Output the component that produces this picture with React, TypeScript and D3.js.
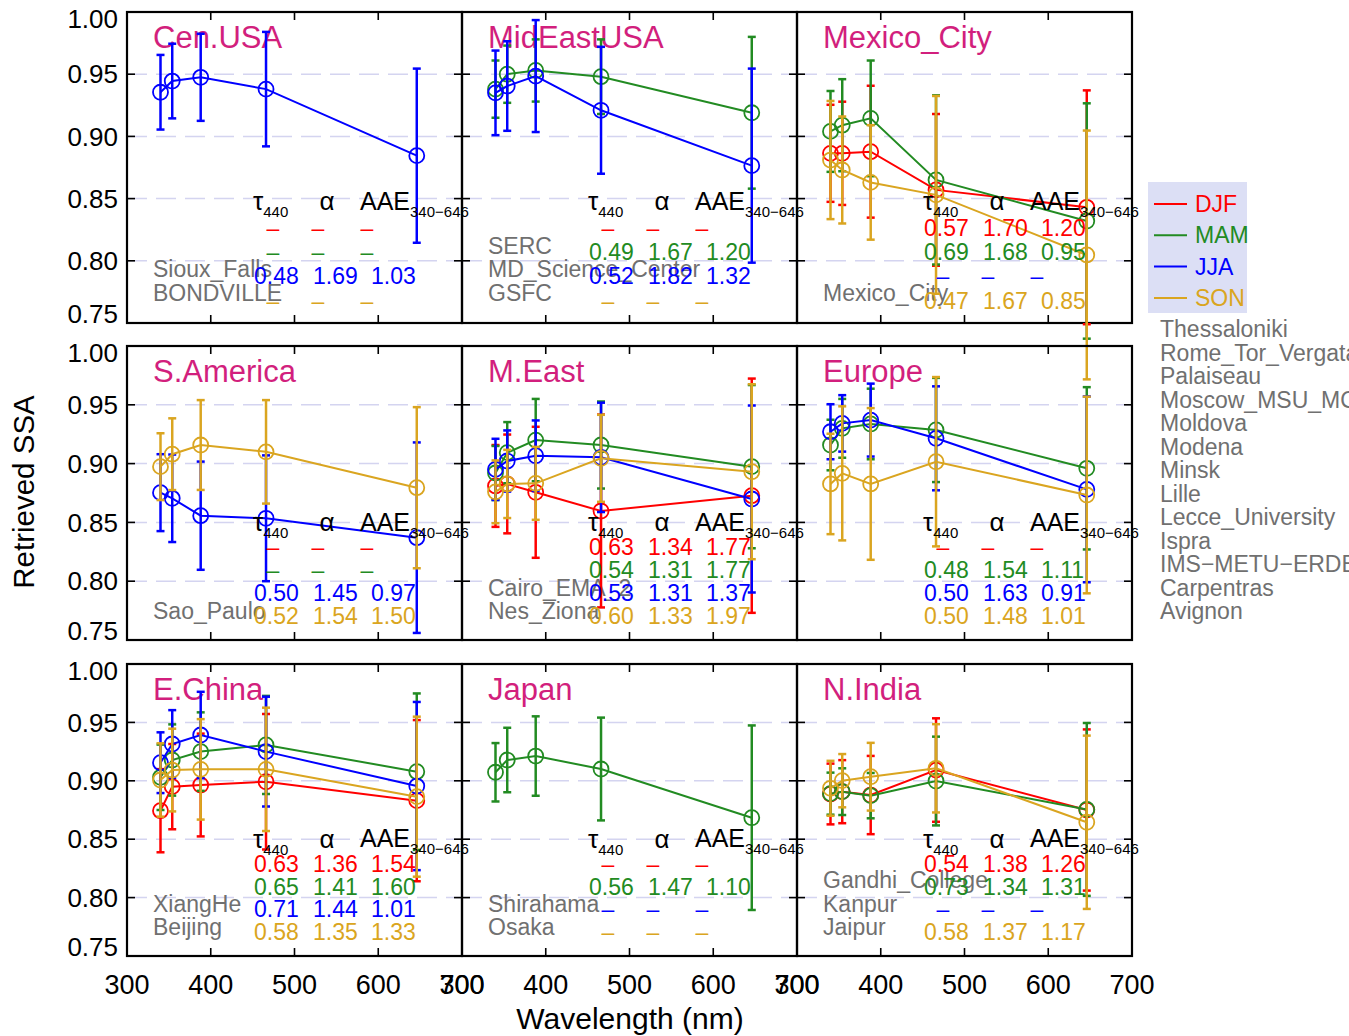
import React from "react";
import * as d3 from "d3";

// ---------- shared axes data ----------
const wavelengths = [340, 354, 388, 466, 646];
const seasons = ["DJF", "MAM", "JJA", "SON"];
const seasonColors = ["#ff0000", "#228b22", "#0000ff", "#daa520"];
const yTicks = [0.75, 0.8, 0.85, 0.9, 0.95, 1.0];
const gridTicks = [0.8, 0.85, 0.9, 0.95];
const xTicks = [300, 400, 500, 600, 700];
const xInnerTicks = [400, 500, 600];

// ---------- Cen.USA ----------
const ssaCenUSA = { JJA: [0.9355, 0.9445, 0.9475, 0.938, 0.8845] };
const sdCenUSA = { JJA: [0.03, 0.03, 0.035, 0.046, 0.07] };
const statsCenUSA = { JJA: [0.48, 1.69, 1.03] };
const sitesCenUSA = ["Sioux_Falls", "BONDVILLE"];

// ---------- MidEastUSA ----------
const ssaMidEastUSA = {
  MAM: [0.938, 0.95, 0.953, 0.948, 0.919],
  JJA: [0.935, 0.9405, 0.9485, 0.921, 0.8765],
};
const sdMidEastUSA = {
  MAM: [0.023, 0.023, 0.025, 0.03, 0.061],
  JJA: [0.034, 0.036, 0.045, 0.051, 0.078],
};
const statsMidEastUSA = { MAM: [0.49, 1.67, 1.2], JJA: [0.52, 1.82, 1.32] };
const sitesMidEastUSA = ["SERC", "MD_Science_Center", "GSFC"];

// ---------- Mexico_City ----------
const ssaMexico = {
  DJF: [0.8864, 0.8864, 0.8877, 0.857, 0.843],
  MAM: [0.904, 0.909, 0.9145, 0.865, 0.832],
  SON: [0.881, 0.873, 0.863, 0.853, 0.8047],
};
const sdMexico = {
  DJF: [0.039, 0.0415, 0.053, 0.061, 0.094],
  MAM: [0.0325, 0.037, 0.0465, 0.068, 0.0946],
  SON: [0.0475, 0.043, 0.046, 0.0795, 0.1],
};
const statsMexico = { DJF: [0.57, 1.7, 1.2], MAM: [0.69, 1.68, 0.95], SON: [0.47, 1.67, 0.85] };
const sitesMexico = ["Mexico_City"];

// ---------- S.America ----------
const ssaSAmerica = {
  JJA: [0.8753, 0.8705, 0.8557, 0.8535, 0.837],
  SON: [0.8974, 0.908, 0.9158, 0.91, 0.8795],
};
const sdSAmerica = {
  JJA: [0.0327, 0.0372, 0.046, 0.0535, 0.081],
  SON: [0.0284, 0.0305, 0.0382, 0.044, 0.0685],
};
const statsSAmerica = { JJA: [0.5, 1.45, 0.97], SON: [0.52, 1.54, 1.5] };
const sitesSAmerica = ["Sao_Paulo"];

// ---------- M.East ----------
const ssaMEast = {
  DJF: [0.881, 0.8827, 0.8756, 0.8597, 0.8727],
  MAM: [0.892, 0.9093, 0.92, 0.9158, 0.8974],
  JJA: [0.8951, 0.9022, 0.9067, 0.9053, 0.8699],
  SON: [0.876, 0.8827, 0.8832, 0.9045, 0.8931],
};
const sdMEast = {
  DJF: [0.0348, 0.042, 0.0557, 0.082, 0.0996],
  MAM: [0.023, 0.026, 0.035, 0.037, 0.0694],
  JJA: [0.026, 0.026, 0.03, 0.0465, 0.0795],
  SON: [0.0267, 0.029, 0.031, 0.037, 0.0744],
};
const statsMEast = {
  DJF: [0.63, 1.34, 1.77],
  MAM: [0.54, 1.31, 1.77],
  JJA: [0.53, 1.31, 1.37],
  SON: [0.6, 1.33, 1.97],
};
const sitesMEast = ["Cairo_EMA_2", "Nes_Ziona"];

// ---------- Europe ----------
const ssaEurope = {
  MAM: [0.9158, 0.93, 0.9337, 0.9286, 0.896],
  JJA: [0.9271, 0.9342, 0.937, 0.9215, 0.8781],
  SON: [0.8827, 0.8917, 0.8827, 0.9016, 0.8733],
};
const sdEurope = {
  MAM: [0.0215, 0.025, 0.03, 0.0443, 0.069],
  JJA: [0.0234, 0.024, 0.031, 0.0442, 0.079],
  SON: [0.0427, 0.057, 0.0645, 0.072, 0.0836],
};
const statsEurope = { MAM: [0.48, 1.54, 1.11], JJA: [0.5, 1.63, 0.91], SON: [0.5, 1.48, 1.01] };
const sitesEurope = [
  "Thessaloniki",
  "Rome_Tor_Vergata",
  "Palaiseau",
  "Moscow_MSU_MO",
  "Moldova",
  "Modena",
  "Minsk",
  "Lille",
  "Lecce_University",
  "Ispra",
  "IMS\u2212METU\u2212ERDEMLI",
  "Carpentras",
  "Avignon",
];

// ---------- E.China ----------
const ssaEChina = {
  DJF: [0.8744, 0.895, 0.8964, 0.8992, 0.883],
  MAM: [0.903, 0.9178, 0.925, 0.9307, 0.9078],
  JJA: [0.9155, 0.9315, 0.9392, 0.925, 0.8955],
  SON: [0.9007, 0.9092, 0.9098, 0.9098, 0.8864],
};
const sdEChina = {
  DJF: [0.0356, 0.0365, 0.044, 0.058, 0.069],
  MAM: [0.028, 0.0305, 0.0336, 0.042, 0.067],
  JJA: [0.026, 0.029, 0.037, 0.047, 0.072],
  SON: [0.0314, 0.0354, 0.043, 0.0528, 0.0685],
};
const statsEChina = {
  DJF: [0.63, 1.36, 1.54],
  MAM: [0.65, 1.41, 1.6],
  JJA: [0.71, 1.44, 1.01],
  SON: [0.58, 1.35, 1.33],
};
const sitesEChina = ["XiangHe", "Beijing"];

// ---------- Japan ----------
const ssaJapan = { MAM: [0.9073, 0.9178, 0.9212, 0.9101, 0.8684] };
const sdJapan = { MAM: [0.025, 0.0276, 0.034, 0.044, 0.079] };
const statsJapan = { MAM: [0.56, 1.47, 1.1] };
const sitesJapan = ["Shirahama", "Osaka"];

// ---------- N.India ----------
const ssaNIndia = {
  DJF: [0.8887, 0.8907, 0.8878, 0.9092, 0.875],
  MAM: [0.889, 0.8907, 0.8873, 0.8998, 0.8755],
  SON: [0.8936, 0.9001, 0.9035, 0.9107, 0.8645],
};
const sdNIndia = {
  DJF: [0.026, 0.027, 0.0335, 0.0443, 0.069],
  MAM: [0.018, 0.02, 0.0194, 0.038, 0.074],
  SON: [0.0235, 0.0228, 0.029, 0.0378, 0.0742],
};
const statsNIndia = { DJF: [0.54, 1.38, 1.26], MAM: [0.73, 1.34, 1.31], SON: [0.58, 1.37, 1.17] };
const sitesNIndia = ["Gandhi_College", "Kanpur", "Jaipur"];

// ---------- panel table ----------
const panels = [
  { name: "Cen.USA", ssa: ssaCenUSA, sd: sdCenUSA, stats: statsCenUSA, sites: sitesCenUSA, col: 0, row: 0 },
  { name: "MidEastUSA", ssa: ssaMidEastUSA, sd: sdMidEastUSA, stats: statsMidEastUSA, sites: sitesMidEastUSA, col: 1, row: 0 },
  { name: "Mexico_City", ssa: ssaMexico, sd: sdMexico, stats: statsMexico, sites: sitesMexico, col: 2, row: 0 },
  { name: "S.America", ssa: ssaSAmerica, sd: sdSAmerica, stats: statsSAmerica, sites: sitesSAmerica, col: 0, row: 1 },
  { name: "M.East", ssa: ssaMEast, sd: sdMEast, stats: statsMEast, sites: sitesMEast, col: 1, row: 1 },
  { name: "Europe", ssa: ssaEurope, sd: sdEurope, stats: statsEurope, sites: sitesEurope, col: 2, row: 1, sitesOutside: true },
  { name: "E.China", ssa: ssaEChina, sd: sdEChina, stats: statsEChina, sites: sitesEChina, col: 0, row: 2 },
  { name: "Japan", ssa: ssaJapan, sd: sdJapan, stats: statsJapan, sites: sitesJapan, col: 1, row: 2 },
  { name: "N.India", ssa: ssaNIndia, sd: sdNIndia, stats: statsNIndia, sites: sitesNIndia, col: 2, row: 2 },
];

// ---------- layout ----------
const W = 1349;
const H = 1036;
const COLS = [127, 462, 797];
const PW = 335;
const ROWS = [
  [12, 323],
  [346, 640],
  [664, 956],
];
const FONT = "'Liberation Sans', Arial, Helvetica, sans-serif";
const TITLE_COLOR = "#d21f7d";
const SITE_COLOR = "#707070";
const GRID_COLOR = "#d4d4f0";
const statRowsV = [0.829, 0.8095, 0.79, 0.7705];
const headerV = 0.8505;
const rowTextShift = [3, 0, 0];
const numX = [127, 186, 244];
const dashX = [146, 191, 240];
const fmt = d3.format(".2f");

function Panel({ p }: { p: any }) {
  const x0 = COLS[p.col];
  const [top, bottom] = ROWS[p.row];
  const x = d3.scaleLinear().domain([300, 700]).range([x0, x0 + PW]);
  const y = d3.scaleLinear().domain([0.75, 1.0]).range([bottom, top]);
  const line = d3
    .line<number>()
    .x((_, i) => x(wavelengths[i]))
    .y((d) => y(d));
  const shift = rowTextShift[p.row];
  const siteX = p.sitesOutside ? x0 + PW + 28 : x0 + 26;
  const siteLastY = y(0.7745);
  const n = p.sites.length;

  return (
    <g>
      {gridTicks.map((t) => (
        <line
          key={"g" + t}
          x1={x0}
          x2={x0 + PW}
          y1={y(t)}
          y2={y(t)}
          stroke={GRID_COLOR}
          strokeWidth={1.5}
          strokeDasharray="20,9"
        />
      ))}
      <rect x={x0} y={top} width={PW} height={bottom - top} fill="none" stroke="#000" strokeWidth={2.2} />
      {gridTicks.map((t) => (
        <g key={"yt" + t}>
          <line x1={x0} x2={x0 + 8} y1={y(t)} y2={y(t)} stroke="#000" strokeWidth={1.6} />
          <line x1={x0 + PW - 8} x2={x0 + PW} y1={y(t)} y2={y(t)} stroke="#000" strokeWidth={1.6} />
        </g>
      ))}
      {xInnerTicks.map((t) => (
        <g key={"xt" + t}>
          <line x1={x(t)} x2={x(t)} y1={top} y2={top + 8} stroke="#000" strokeWidth={1.6} />
          <line x1={x(t)} x2={x(t)} y1={bottom - 8} y2={bottom} stroke="#000" strokeWidth={1.6} />
        </g>
      ))}
      <text x={x0 + 26} y={top + 25} dy="0.35em" fontSize={31} fill={TITLE_COLOR} fontFamily={FONT}>
        {p.name}
      </text>
      {p.sites.map((s: string, i: number) => (
        <text
          key={"s" + i}
          x={siteX}
          y={siteLastY - (n - 1 - i) * 23.5}
          dy="0.35em"
          fontSize={23}
          fill={SITE_COLOR}
          fontFamily={FONT}
        >
          {s}
        </text>
      ))}
      {seasons.map((s, si) => {
        const vals = p.ssa[s];
        const sds = p.sd[s];
        if (!vals) return null;
        const c = seasonColors[si];
        return (
          <g key={"ser" + s}>
            {vals.map((v: number, i: number) => {
              const xx = x(wavelengths[i]);
              const yt = y(v + sds[i]);
              const yb = y(v - sds[i]);
              return (
                <g key={"eb" + i}>
                  <line x1={xx} x2={xx} y1={yt} y2={yb} stroke={c} strokeWidth={2.5} />
                  <line x1={xx - 4} x2={xx + 4} y1={yt} y2={yt} stroke={c} strokeWidth={2.5} />
                  <line x1={xx - 4} x2={xx + 4} y1={yb} y2={yb} stroke={c} strokeWidth={2.5} />
                </g>
              );
            })}
            <path d={line(vals) || ""} fill="none" stroke={c} strokeWidth={2} />
            {vals.map((v: number, i: number) => (
              <circle
                key={"c" + i}
                cx={x(wavelengths[i])}
                cy={y(v)}
                r={7.5}
                fill="none"
                stroke={c}
                strokeWidth={1.8}
              />
            ))}
          </g>
        );
      })}
      <text x={x0 + 126} y={y(headerV) + shift} dy="0.35em" fontSize={26} fill="#000" fontFamily={FONT}>
        τ<tspan fontSize={15} dy={7}>440</tspan>
      </text>
      <text
        x={x0 + 200}
        y={y(headerV) + shift}
        dy="0.35em"
        fontSize={26}
        fill="#000"
        fontFamily={FONT}
        textAnchor="middle"
      >
        α
      </text>
      <text x={x0 + 233} y={y(headerV) + shift} dy="0.35em" fontSize={25} fill="#000" fontFamily={FONT}>
        AAE<tspan fontSize={15} dy={7}>340−646</tspan>
      </text>
      {seasons.map((s, si) => {
        const st = p.stats[s];
        const c = seasonColors[si];
        const yy = y(statRowsV[si]) + shift;
        if (!st) {
          return dashX.map((dx, k) => (
            <text
              key={"d" + s + k}
              x={x0 + dx}
              y={yy}
              dy="0.35em"
              fontSize={23}
              fill={c}
              fontFamily={FONT}
              textAnchor="middle"
            >
              –
            </text>
          ));
        }
        return st.map((v: number, k: number) => (
          <text key={"v" + s + k} x={x0 + numX[k]} y={yy} dy="0.35em" fontSize={23} fill={c} fontFamily={FONT}>
            {fmt(v)}
          </text>
        ));
      })}
    </g>
  );
}

export default function App() {
  const legendX = 1148;
  const legendY = 182;
  return (
    <svg
      width={W}
      height={H}
      viewBox={`0 0 ${W} ${H}`}
      style={{ position: "absolute", left: 0, top: 0, background: "#fff" }}
    >
      <rect x={0} y={0} width={W} height={H} fill="#fff" />
      {panels.map((p) => (
        <Panel key={p.name} p={p} />
      ))}
      {/* y tick labels */}
      {ROWS.map(([top, bottom], r) => {
        const y = d3.scaleLinear().domain([0.75, 1.0]).range([bottom, top]);
        return yTicks.map((t) => (
          <text
            key={"yl" + r + t}
            x={118}
            y={y(t) + (t === 1.0 ? 7 : t === 0.75 ? -9 : 0)}
            dy="0.35em"
            fontSize={26}
            textAnchor="end"
            fontFamily={FONT}
            fill="#000"
          >
            {d3.format(".2f")(t)}
          </text>
        ));
      })}
      {/* x tick labels */}
      {COLS.map((x0, c) => {
        const x = d3.scaleLinear().domain([300, 700]).range([x0, x0 + PW]);
        return xTicks.map((t) => (
          <text
            key={"xl" + c + t}
            x={x(t)}
            y={985}
            dy="0.35em"
            fontSize={27}
            textAnchor="middle"
            fontFamily={FONT}
            fill="#000"
          >
            {t}
          </text>
        ));
      })}
      <text x={630} y={1018} dy="0.35em" fontSize={30} textAnchor="middle" fontFamily={FONT} fill="#000">
        Wavelength (nm)
      </text>
      <text
        x={0}
        y={0}
        transform="translate(24,492) rotate(-90)"
        dy="0.35em"
        fontSize={29.5}
        textAnchor="middle"
        fontFamily={FONT}
        fill="#000"
      >
        Retrieved SSA
      </text>
      {/* legend */}
      <rect x={legendX} y={legendY} width={99} height={131} fill="#dcdff5" />
      {seasons.map((s, i) => {
        const yy = 204 + i * 31.3;
        return (
          <g key={"lg" + s}>
            <line x1={1154} x2={1187} y1={yy} y2={yy} stroke={seasonColors[i]} strokeWidth={2} />
            <text x={1195} y={yy} dy="0.35em" fontSize={23} fill={seasonColors[i]} fontFamily={FONT}>
              {s}
            </text>
          </g>
        );
      })}
    </svg>
  );
}
